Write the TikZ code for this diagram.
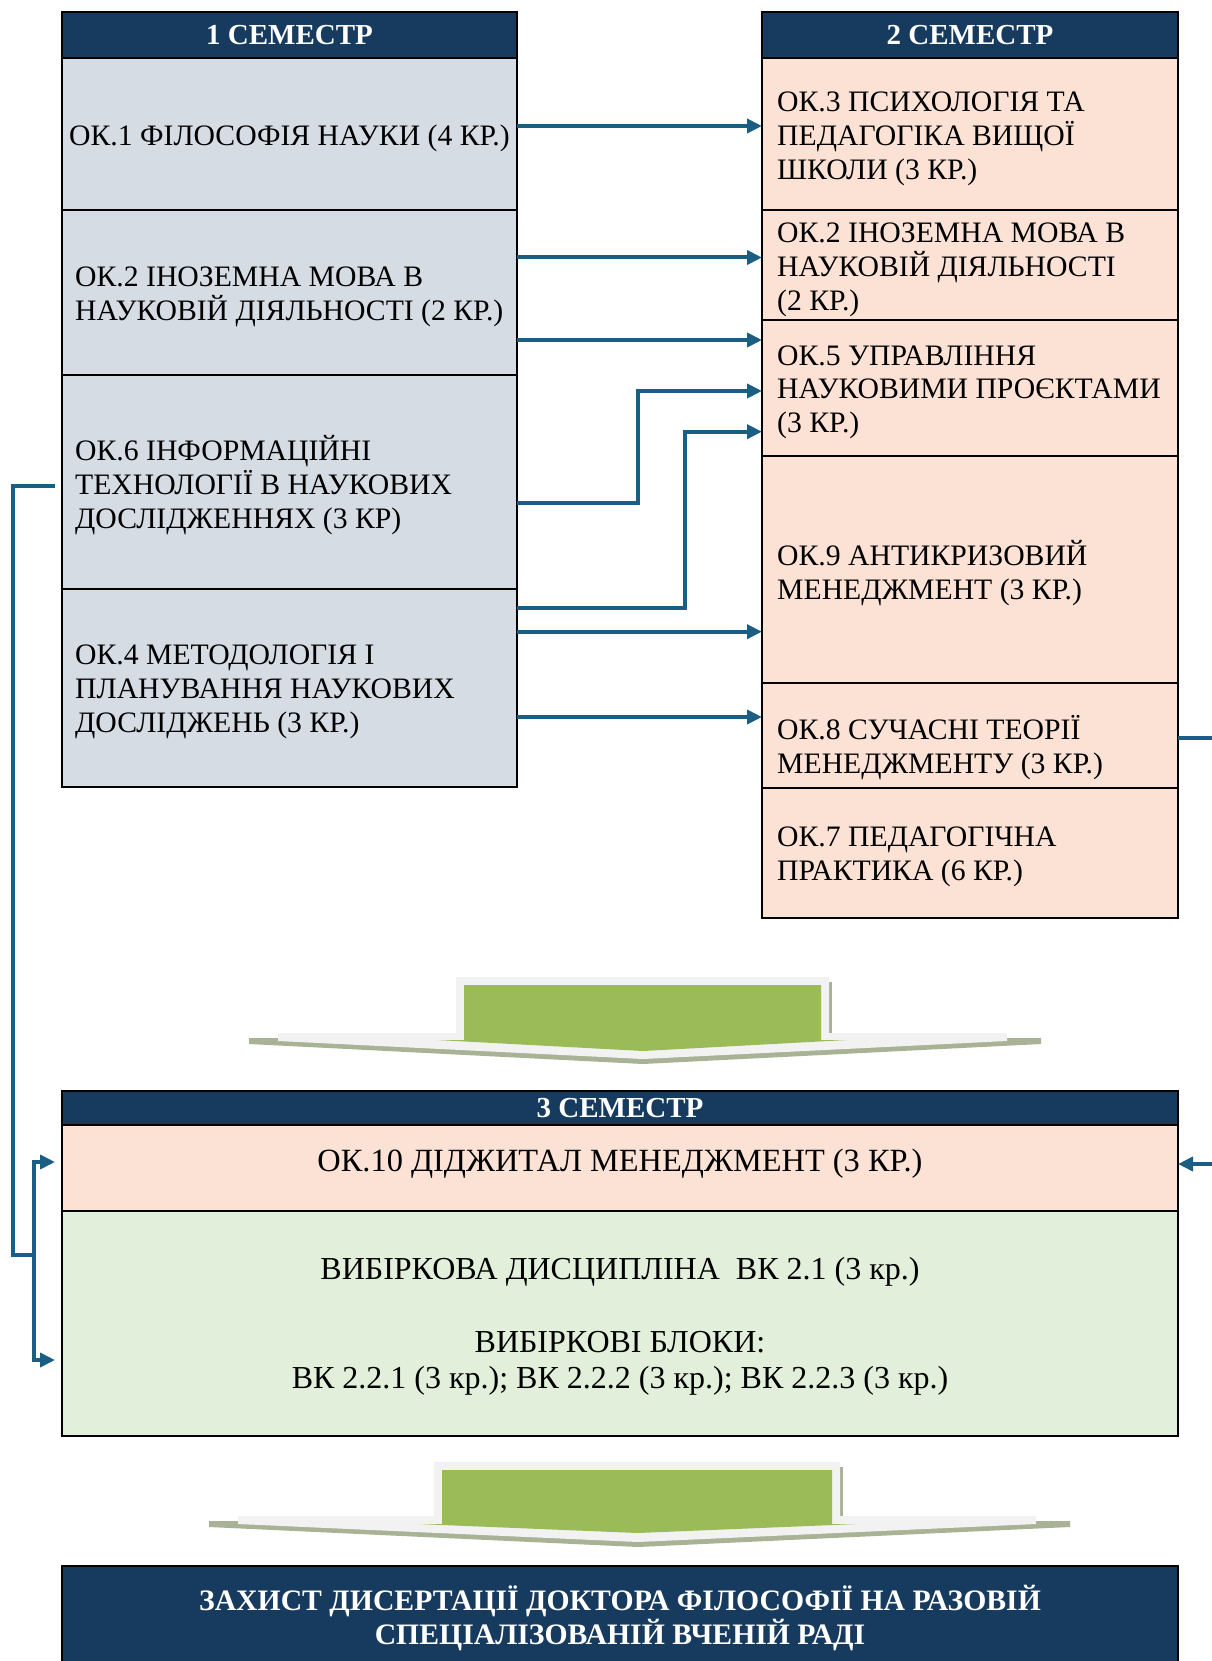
\documentclass[tikz,border=0pt]{standalone}
\usepackage{fontspec}
\setmainfont{Liberation Serif}
\usetikzlibrary{arrows.meta}
\definecolor{navy}{RGB}{23,59,95}
\definecolor{conn}{RGB}{26,95,131}
\definecolor{lfill}{RGB}{214,220,228}
\definecolor{rfill}{RGB}{251,226,213}
\definecolor{gfill}{RGB}{226,239,218}
\definecolor{agreen}{RGB}{155,187,89}
\definecolor{alight}{RGB}{242,242,242}
\definecolor{ashadow}{RGB}{168,178,148}
\newcommand\ls{\rule[-7.4pt]{0pt}{26.5pt}}
\newcommand\lb{\rule[-7.85pt]{0pt}{28.65pt}}
\tikzset{
  cell/.style={draw=black, line width=2.5pt, anchor=north west, inner sep=0pt, outer sep=0pt},
  lcell/.style={cell, fill=lfill, minimum width=455pt},
  rcell/.style={cell, fill=rfill, minimum width=416pt},
  hcell/.style={cell, fill=navy, text=white, font=\fontsize{29}{33.9}\selectfont\bfseries},
  txt/.style={anchor=west, inner sep=0pt, align=left, font=\fontsize{29.7}{33.9}\selectfont},
  ctxt/.style={inner sep=0pt, align=center, font=\fontsize{32}{36.5}\selectfont},
  conn/.style={draw=conn, line width=4pt, line join=miter},
  tip/.style={-{Triangle[length=15pt,width=14pt]}}
}
\begin{document}
\begin{tikzpicture}[x=1pt,y=-1pt]
\useasboundingbox (0,0) rectangle (1211,1661);
\fill[white] (0,0) rectangle (1211,1661);
% semester 1
\node[hcell, minimum width=455pt, minimum height=46pt] (lh) at (62,12) {\raisebox{-1pt}{1 СЕМЕСТР}};
\node[lcell, minimum height=152pt] (l1) at (62,58) {};
\node[lcell, minimum height=165pt] (l2) at (62,210) {};
\node[lcell, minimum height=214pt] (l6) at (62,375) {};
\node[lcell, minimum height=198pt] (l4) at (62,589) {};
% semester 2
\node[hcell, minimum width=416pt, minimum height=46pt] (rh) at (762,12) {\raisebox{-1pt}{2 СЕМЕСТР}};
\node[rcell, minimum height=152pt] (r3) at (762,58) {};
\node[rcell, minimum height=110pt] (r2) at (762,210) {};
\node[rcell, minimum height=136pt] (r5) at (762,320) {};
\node[rcell, minimum height=227pt] (r9) at (762,456) {};
\node[rcell, minimum height=105pt] (r8) at (762,683) {};
\node[rcell, minimum height=130pt] (r7) at (762,788) {};
% texts
\node[txt] (t1) at (69,138.5) {\ls ОК.1 ФІЛОСОФІЯ НАУКИ (4 КР.)};
\node[txt] (t2) at (75,297.5) {\ls ОК.2 ІНОЗЕМНА МОВА В\\\ls НАУКОВІЙ ДІЯЛЬНОСТІ (2 КР.)};
\node[txt] (t6) at (75,486) {\ls ОК.6 ІНФОРМАЦІЙНІ\\\ls ТЕХНОЛОГІЇ В НАУКОВИХ\\\ls ДОСЛІДЖЕННЯХ (3 КР)};
\node[txt] (t4) at (75,692.7) {\ls ОК.4 МЕТОДОЛОГІЯ І\\\ls ПЛАНУВАННЯ НАУКОВИХ\\\ls ДОСЛІДЖЕНЬ (3 КР.)};
\node[txt] (tr3) at (777,139.6) {\ls ОК.3 ПСИХОЛОГІЯ ТА\\\ls ПЕДАГОГІКА ВИЩОЇ\\\ls ШКОЛИ (3 КР.)};
\node[txt] (tr2) at (777,270) {\ls ОК.2 ІНОЗЕМНА МОВА В\\\ls НАУКОВІЙ ДІЯЛЬНОСТІ\\\ls (2 КР.)};
\node[txt] (tr5) at (777,392.8) {\ls ОК.5 УПРАВЛІННЯ\\\ls НАУКОВИМИ ПРОЄКТАМИ\\\ls (3 КР.)};
\node[txt] (tr9) at (777,574) {\ls ОК.9 АНТИКРИЗОВИЙ\\\ls МЕНЕДЖМЕНТ (3 КР.)};
\node[txt] (tr8) at (777,747.7) {\ls ОК.8 СУЧАСНІ ТЕОРІЇ\\\ls МЕНЕДЖМЕНТУ (3 КР.)};
\node[txt] (tr7) at (777,857) {\ls ОК.7 ПЕДАГОГІЧНА\\\ls ПРАКТИКА (6 КР.)};
% big arrow 1
\fill[ashadow] (249,1038) -- (1041,1038) -- (1041,1044) -- (643,1064) -- (249,1044) -- cycle;
\fill[ashadow] (829,982) rectangle (832,1038);
\fill[alight] (456,977) -- (829,977) -- (829,1033) -- (1007,1033) -- (1007,1041) -- (643,1059) -- (278,1041) -- (278,1033) -- (456,1033) -- cycle;
\fill[agreen] (464,985) -- (821,985) -- (821,1040) -- (847,1040) -- (643,1051) -- (437,1040) -- (464,1040) -- cycle;
% semester 3
\node[hcell, minimum width=1116pt, minimum height=34pt] (sh) at (62,1091) {\raisebox{-1pt}{3 СЕМЕСТР}};
\node[cell, fill=rfill, minimum width=1116pt, minimum height=86pt] (s10) at (62,1125) {};
\node[cell, fill=gfill, minimum width=1116pt, minimum height=225pt] (sel) at (62,1211) {};
\node[ctxt, font=\fontsize{32.4}{36.5}\selectfont] (t10) at (620,1164) {\lb ОК.10 ДІДЖИТАЛ МЕНЕДЖМЕНТ (3 КР.)};
\node[ctxt] (tel) at (620,1327) {\lb ВИБІРКОВА ДИСЦИПЛІНА\ \ ВК 2.1 (3 кр.)\\\lb\\\lb ВИБІРКОВІ БЛОКИ:\\\lb ВК 2.2.1 (3 кр.); ВК 2.2.2 (3 кр.); ВК 2.2.3 (3 кр.)};
% big arrow 2
\fill[ashadow] (209,1521) -- (1070,1521) -- (1070,1527) -- (638,1547) -- (209,1527) -- cycle;
\fill[ashadow] (840,1467) rectangle (843,1521);
\fill[alight] (434,1462) -- (840,1462) -- (840,1516) -- (1036,1516) -- (1036,1524) -- (638,1542) -- (238,1524) -- (238,1516) -- (434,1516) -- cycle;
\fill[agreen] (442,1470) -- (832,1470) -- (832,1524) -- (857,1524) -- (638,1533) -- (418,1524) -- (442,1524) -- cycle;
% final
\node[hcell, minimum width=1116pt, minimum height=100pt] (fin) at (62,1566) {};
\node[inner sep=0pt, align=center, text=white, font=\fontsize{29.7}{34}\selectfont\bfseries] (tfin) at (620,1619) {\ls ЗАХИСТ ДИСЕРТАЦІЇ ДОКТОРА ФІЛОСОФІЇ НА РАЗОВІЙ\\\ls СПЕЦІАЛІЗОВАНІЙ ВЧЕНІЙ РАДІ};
% connectors between semesters 1 and 2
\draw[conn,tip] ([yshift=8pt]l1.east) -- ([yshift=8pt]l1.east -| r3.west);
\draw[conn,tip] ([yshift=35pt]l2.east) -- ([yshift=35pt]l2.east -| r2.west);
\draw[conn,tip] ([yshift=-47.5pt]l2.east) -- ([yshift=-47.5pt]l2.east -| r5.west);
\coordinate (c4) at (637.7,391);
\draw[conn,tip] ([yshift=-20.7pt]l6.east) -| (c4) -- (c4 -| r5.west);
\coordinate (c5) at (685,431.7);
\draw[conn,tip] ([yshift=80pt]l4.east) -| (c5) -- (c5 -| r5.west);
\draw[conn,tip] ([yshift=56.3pt]l4.east) -- ([yshift=56.3pt]l4.east -| r9.west);
\draw[conn,tip] ([yshift=-29pt]l4.east) -- ([yshift=-29pt]l4.east -| r8.west);
% right loop
\coordinate (ro1) at (1240,738);
\coordinate (ro2) at (1240,1164);
\draw[conn,tip] ([yshift=-2.5pt]r8.east) -- (ro1) -- (ro2) -- ([yshift=4pt]s10.east);
% left loop
\coordinate (lo1) at (13,486);
\coordinate (lo2) at (13,1255);
\coordinate (lj) at (34,1255);
\coordinate (la) at (34,1162);
\coordinate (lb) at (34,1360);
\draw[conn, line width=4.5pt] ([xshift=-7pt,yshift=-4pt]l6.west) -- (lo1) -- (lo2) -- (lj);
\draw[conn,tip] (lj) -- (la) -- ([xshift=-7pt,yshift=6pt]s10.west);
\draw[conn,tip] (lj) -- (lb) -- ([xshift=-7pt,yshift=-36.5pt]sel.west);
\end{tikzpicture}
\end{document}
